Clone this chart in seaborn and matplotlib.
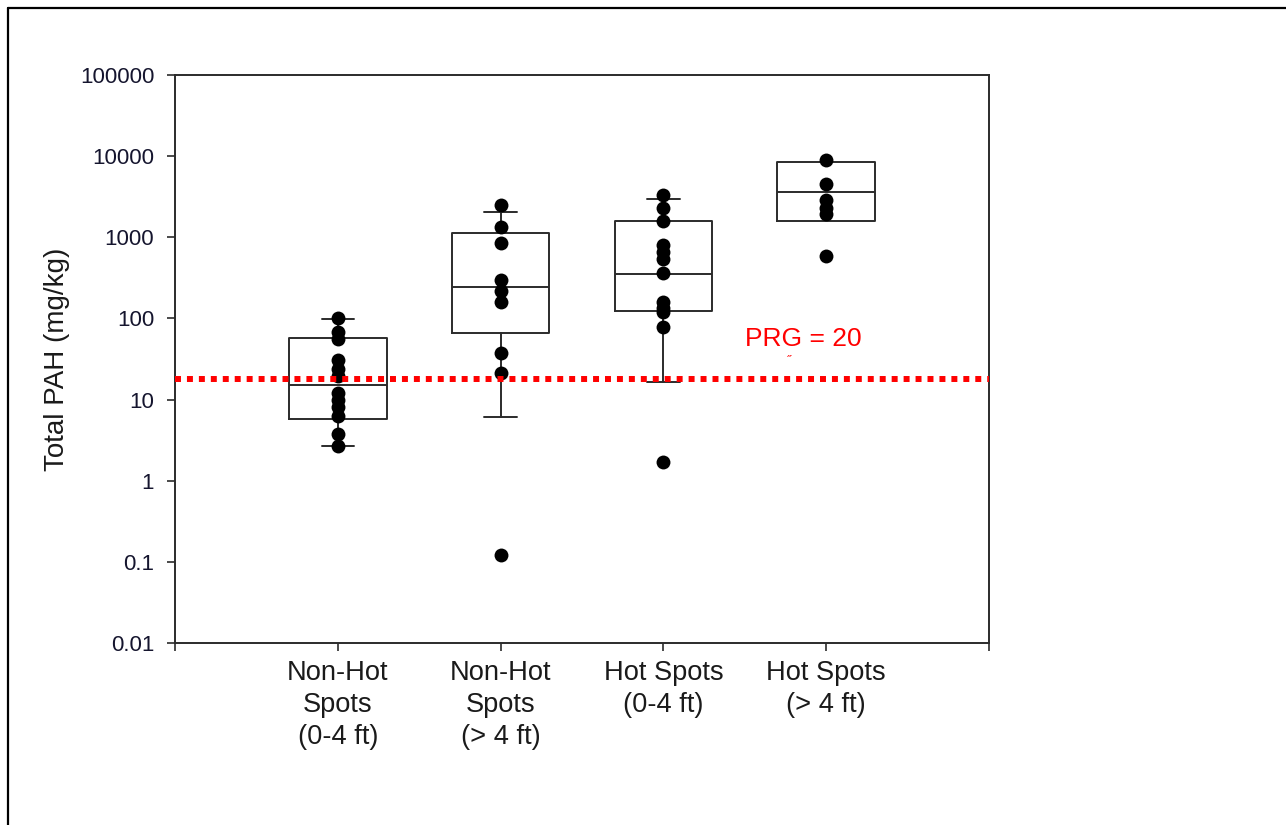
import matplotlib
matplotlib.use("Agg")
import matplotlib.pyplot as plt
from matplotlib.lines import Line2D
import seaborn as sns
import numpy as np
import pandas as pd

# ---- data ----
categories = ["Non-Hot\nSpots\n(0-4 ft)", "Non-Hot\nSpots\n(> 4 ft)",
              "Hot Spots\n(0-4 ft)", "Hot Spots\n(> 4 ft)"]
g1_values = [102, 68, 55, 31, 24, 19.5, 12, 9.8, 8.0, 6.3, 3.8, 2.65]
g2_values = [2500, 1350, 850, 300, 220, 160, 38, 21, 0.122]
g3_values = [3300, 2300, 1600, 800, 660, 540, 365, 160, 135, 120, 79, 1.7]
g4_values = [9000, 4600, 2900, 2300, 1950, 590]

box_q1 = [5.8, 67, 125, 1600]
box_median = [15.2, 244, 356, 3600]
box_q3 = [58, 1140, 1590, 8550]
whisker_low = [2.7, 6.1, 16.6, 1600]
whisker_high = [98, 2030, 2960, 8550]
has_whiskers = [True, True, True, False]

prg_value = 18
prg_label = "PRG = 20"
y_ticks = [0.01, 0.1, 1, 10, 100, 1000, 10000, 100000]
y_tick_labels = ["0.01", "0.1", "1", "10", "100", "1000", "10000", "100000"]
y_label = "Total PAH (mg/kg)"

# ---- style ----
sns.set_style("ticks")
plt.rcParams["font.family"] = ["Liberation Sans", "DejaVu Sans"]

W, H = 1286, 825
fig = plt.figure(figsize=(W / 100, H / 100), dpi=100)
ax = fig.add_axes([175 / W, 1 - 643 / H, (989 - 175) / W, (643 - 75) / H])

groups = [g1_values, g2_values, g3_values, g4_values]
df = pd.DataFrame({
    "group": np.concatenate([[c] * len(v) for c, v in zip(categories, groups)]),
    "value": np.concatenate(groups),
})

# boxes from the summary statistics
stats = []
for i in range(len(categories)):
    stats.append(dict(med=box_median[i], q1=box_q1[i], q3=box_q3[i],
                      whislo=whisker_low[i], whishi=whisker_high[i],
                      fliers=[], label=categories[i]))
line_col = "#2b2b2b"
ax.bxp(stats, positions=range(len(categories)), widths=0.6,
       capwidths=[0.2 if w else 0.0 for w in has_whiskers],
       showfliers=False, patch_artist=False,
       boxprops=dict(color=line_col, linewidth=1.4),
       medianprops=dict(color=line_col, linewidth=1.4),
       whiskerprops=dict(color=line_col, linewidth=1.4),
       capprops=dict(color=line_col, linewidth=1.4))

sns.stripplot(data=df, x="group", y="value", order=categories, jitter=False,
              color="black", size=10, linewidth=0, ax=ax, zorder=5)

ax.set_yscale("log")
ax.set_ylim(0.01, 100000)
ax.set_xlim(-1, 4)

# PRG line and label
ax.axhline(prg_value, color="#ff0000", linewidth=4.3, linestyle=(0, (1, 1)),
           dash_capstyle="butt", zorder=6)
ax.text(2.5, 55, prg_label, color="#ff0000", fontsize=19, va="center", ha="left")
ax.text(2.77, 29, "\u02dd", color="#ff0000", fontsize=9, va="center", ha="center")

# ticks
ax.set_yticks(y_ticks)
ax.set_yticklabels(y_tick_labels)
ax.yaxis.set_minor_locator(matplotlib.ticker.NullLocator())
ax.set_xticks([-1, 0, 1, 2, 3, 4])
ax.set_xticklabels([""] + categories + [""])
ax.tick_params(axis="y", labelsize=16, length=6, width=1.2, color=line_col,
               labelcolor="#15152e", pad=9)
ax.tick_params(axis="x", labelsize=19.6, length=6, width=1.2, color=line_col,
               labelcolor="#1a1a1a", pad=6)
for lab in ax.get_xticklabels():
    lab.set_linespacing(1.3)

ax.set_xlabel("")
ax.set_ylabel(y_label, fontsize=20, color="#1a1a1a", labelpad=7)

for side in ["left", "right", "top", "bottom"]:
    ax.spines[side].set_visible(True)
    ax.spines[side].set_color(line_col)
    ax.spines[side].set_linewidth(1.4)

# outer frame (top and left edges)
fig.add_artist(Line2D([8 / W, 1], [1 - 8 / H, 1 - 8 / H], transform=fig.transFigure,
                      color="black", linewidth=1.6))
fig.add_artist(Line2D([8 / W, 8 / W], [0, 1 - 8 / H], transform=fig.transFigure,
                      color="black", linewidth=1.6))

fig.savefig("out.png", dpi=100, facecolor="white")
